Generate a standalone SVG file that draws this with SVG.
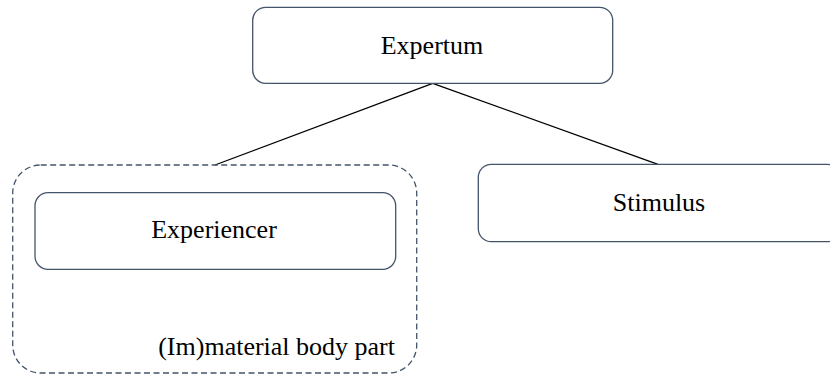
<svg xmlns="http://www.w3.org/2000/svg" width="830" height="378" viewBox="0 0 830 378">
<style>
.box{fill:#fff;stroke:#44546A;stroke-width:1.3}
.group{fill:none;stroke:#44546A;stroke-width:1.3;stroke-dasharray:6 3.5}
.lbl{font-family:"Liberation Serif","Times New Roman",serif;font-size:26px;fill:#000}
.conn{stroke:#000;stroke-width:1.3;fill:none}
</style>
<rect width="830" height="378" fill="#fff"/>
<g id="connectors">
<line class="conn" x1="432.7" y1="83.3" x2="215" y2="165"/>
<line class="conn" x1="432.7" y1="83.3" x2="658" y2="164.3"/>
</g>
<g id="expertum">
<rect class="box" x="252.7" y="7.3" width="360" height="76" rx="13" ry="13"/>
<text class="lbl" x="432" y="54" text-anchor="middle">Expertum</text>
</g>
<g id="body-part">
<rect class="group" x="12.7" y="165" width="404" height="208" rx="28" ry="28"/>
<text class="lbl" x="395" y="355" text-anchor="end">(Im)material body part</text>
</g>
<g id="experiencer">
<rect class="box" x="35" y="192.7" width="360.7" height="76.6" rx="13" ry="13"/>
<text class="lbl" x="214" y="238" text-anchor="middle">Experiencer</text>
</g>
<g id="stimulus">
<rect class="box" x="478.3" y="164.3" width="362" height="77.4" rx="13" ry="13"/>
<text class="lbl" x="659" y="211" text-anchor="middle">Stimulus</text>
</g>
</svg>
